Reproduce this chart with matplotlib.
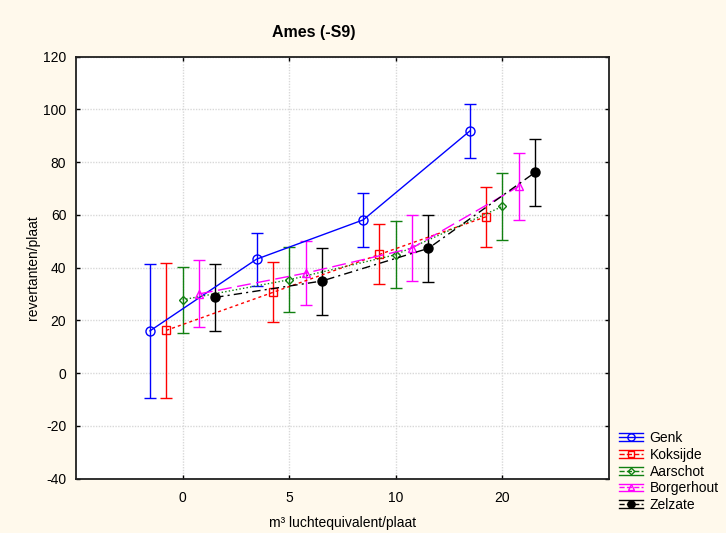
import matplotlib
matplotlib.use("Agg")
import matplotlib.pyplot as plt
from matplotlib.lines import Line2D
from matplotlib.legend_handler import HandlerBase
from matplotlib.container import ErrorbarContainer
import numpy as np

plt.rcParams['font.family'] = ['Liberation Sans', 'DejaVu Sans']
plt.rcParams['axes.unicode_minus'] = False

# Dose levels (categorical x axis)
doses = ['0', '5', '10', '20']

# Mean revertants per plate and error (half-width) per site
genk_mean = [16.0, 43.2, 58.1, 91.8]
genk_err = [25.5, 10.1, 10.3, 10.4]
koksijde_mean = [16.2, 30.6, 45.0, 59.3]
koksijde_err = [25.5, 11.4, 11.4, 11.3]
aarschot_mean = [27.8, 35.4, 44.9, 63.2]
aarschot_err = [12.6, 12.4, 12.7, 12.6]
borgerhout_mean = [30.0, 37.9, 47.4, 70.8]
borgerhout_err = [12.7, 12.1, 12.6, 12.7]
zelzate_mean = [28.7, 34.9, 47.3, 76.1]
zelzate_err = [12.6, 12.7, 12.6, 12.6]

series = [
    ('Genk', genk_mean, genk_err, '#0000FF', '-', 'o', 'none', 6.5),
    ('Koksijde', koksijde_mean, koksijde_err, '#FF0000', (0, (2.2, 2.2)), 's', 'none', 5.5),
    ('Aarschot', aarschot_mean, aarschot_err, '#118011', (0, (1, 1.6)), 'D', 'none', 4.2),
    ('Borgerhout', borgerhout_mean, borgerhout_err, '#FF00FF', (0, (10, 4)), '^', 'none', 6),
    ('Zelzate', zelzate_mean, zelzate_err, '#000000', (0, (6, 3, 1.5, 3)), 'o', '#000000', 6.5),
]

fig = plt.figure(figsize=(7.26, 5.33), dpi=100)
fig.patch.set_facecolor('#FFF9EC')
ax = fig.add_axes([76 / 726, 1 - 478.5 / 533, (609 - 76) / 726, (478.5 - 56.7) / 533])
ax.set_facecolor('white')

step = 0.153
base = np.arange(len(doses))
containers = []
for i, (name, mean, err, color, ls, marker, mfc, ms) in enumerate(series):
    x = base + (i - 2) * step
    c = ax.errorbar(x, mean, yerr=err, color=color, ls=ls, lw=1.0,
                    marker=marker, mfc=mfc, mec=color, mew=1.0, ms=ms,
                    ecolor=color, elinewidth=1.0, capsize=4.5, capthick=1.0,
                    label=name, zorder=3)
    containers.append(c)

ax.set_xlim(-1, 4)
ax.set_ylim(-40, 120)
ax.set_xticks(base)
ax.set_xticklabels(doses)
ax.set_yticks(np.arange(-40, 121, 20))
ax.tick_params(direction='in', length=3, width=1, top=True, right=True,
               labelsize=10, colors='black')
ax.tick_params(axis='x', pad=9)
ax.tick_params(axis='y', pad=7)
ax.grid(True, color='#D8D8D8', ls=(0, (1, 1)), lw=1.0, zorder=0)
for s in ax.spines.values():
    s.set_linewidth(1.3)
    s.set_color('#202020')

ax.set_xlabel('m³ luchtequivalent/plaat', fontsize=10, labelpad=8)
ax.set_ylabel('revertanten/plaat', fontsize=10, labelpad=2)
fig.text(314 / 726, 1 - 33 / 533, 'Ames (-S9)', ha='center', va='center',
         fontsize=11.5, fontweight='bold')


class ErrorbarKeyHandler(HandlerBase):
    """Legend key: series line with marker, flanked by two solid bars."""

    def create_artists(self, legend, orig_handle, xdescent, ydescent,
                       width, height, fontsize, trans):
        line = orig_handle.lines[0]
        color = line.get_color()
        y = height / 2 - ydescent
        x0, x1 = -xdescent, width - xdescent
        off = 2.8
        arts = []
        for dy in (-off, off):
            arts.append(Line2D([x0, x1], [y + dy, y + dy], color=color, lw=1.0,
                               transform=trans))
        arts.append(Line2D([x0, x1], [y, y], color=color, lw=1.0,
                           ls=line.get_linestyle(), transform=trans))
        mk = Line2D([(x0 + x1) / 2], [y], marker=line.get_marker(),
                    ms=line.get_markersize() * 0.8,
                    mfc=line.get_markerfacecolor(),
                    mec=color, mew=1.0, ls='none', transform=trans)
        arts.append(mk)
        return arts


leg = fig.legend(handles=containers, labels=[s[0] for s in series],
                 loc='upper left', bbox_to_anchor=(619 / 726, 1 - 431 / 533),
                 frameon=False, fontsize=10, handlelength=1.75,
                 handletextpad=0.45, labelspacing=0.2, borderpad=0,
                 borderaxespad=0,
                 handler_map={ErrorbarContainer: ErrorbarKeyHandler()})

fig.savefig('out.png', dpi=100, facecolor=fig.get_facecolor())
